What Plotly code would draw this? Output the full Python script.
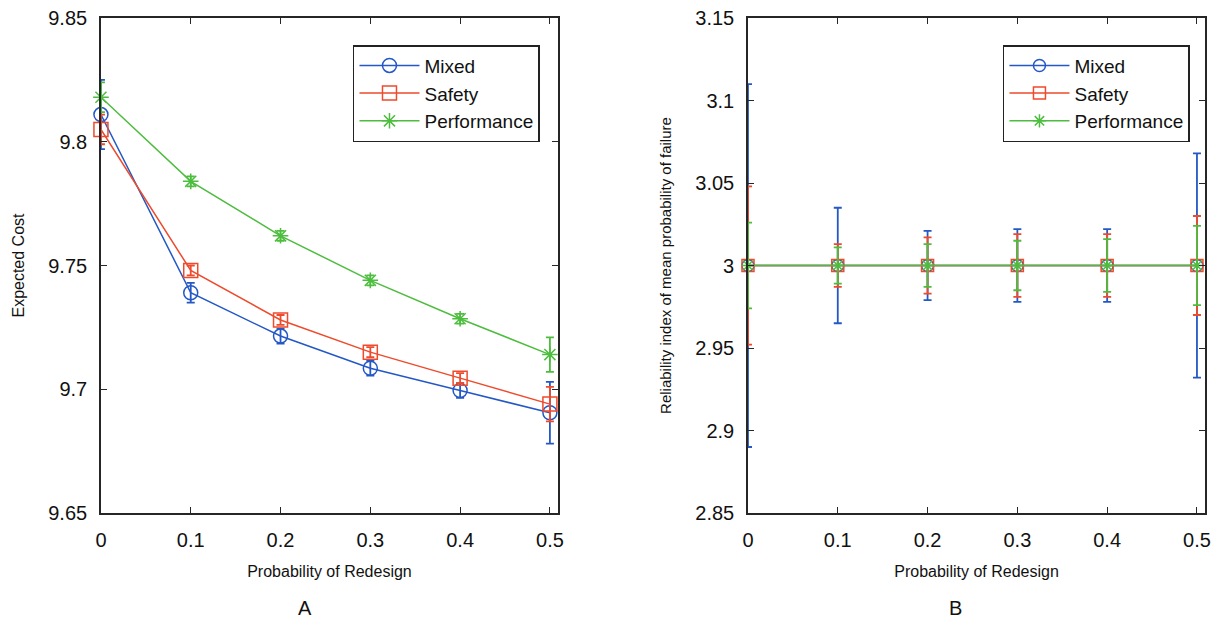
import plotly.graph_objects as go

# ---------------- data ----------------
p_redesign = [0, 0.1, 0.2, 0.3, 0.4, 0.5]

# Panel A: expected cost
cost_mixed = [9.811, 9.739, 9.7215, 9.7085, 9.6995, 9.6905]
cost_mixed_err = [0.014, 0.004, 0.003, 0.003, 0.003, 0.0125]
cost_safety = [9.805, 9.748, 9.728, 9.715, 9.7045, 9.694]
cost_safety_err = [0.006, 0.002, 0.002, 0.002, 0.002, 0.007]
cost_perf = [9.818, 9.784, 9.762, 9.744, 9.7285, 9.714]
cost_perf_err = [0.006, 0.002, 0.002, 0.002, 0.002, 0.007]

# Panel B: reliability index
rel_mixed = [3, 3, 3, 3, 3, 3]
rel_mixed_err = [0.11, 0.035, 0.021, 0.022, 0.022, 0.068]
rel_safety = [3, 3, 3, 3, 3, 3]
rel_safety_err = [0.048, 0.013, 0.017, 0.019, 0.019, 0.030]
rel_perf = [3, 3, 3, 3, 3, 3]
rel_perf_err = [0.026, 0.011, 0.013, 0.015, 0.016, 0.024]

series_names = ["Mixed", "Safety", "Performance"]
x_ticks = [0, 0.1, 0.2, 0.3, 0.4, 0.5]
x_ticktext = ["0", "0.1", "0.2", "0.3", "0.4", "0.5"]
yA_ticks = [9.65, 9.7, 9.75, 9.8, 9.85]
yA_ticktext = ["9.65", "9.7", "9.75", "9.8", "9.85"]
yB_ticks = [2.85, 2.9, 2.95, 3.0, 3.05, 3.1, 3.15]
yB_ticktext = ["2.85", "2.9", "2.95", "3", "3.05", "3.1", "3.15"]

# ---------------- style ----------------
colors = ["#2458c6", "#ee4a2c", "#4dbd3e"]
symbols = ["circle-open", "square-open", "asterisk-open"]
FONT = "Liberation Sans, Arial, sans-serif"
AX = "#262626"

fig = go.Figure()

panelA = [(cost_mixed, cost_mixed_err), (cost_safety, cost_safety_err), (cost_perf, cost_perf_err)]
panelB = [(rel_mixed, rel_mixed_err), (rel_safety, rel_safety_err), (rel_perf, rel_perf_err)]

for i, (vals, errs) in enumerate(panelA):
    fig.add_trace(go.Scatter(
        x=p_redesign, y=vals, name=series_names[i], mode="lines+markers",
        line=dict(color=colors[i], width=1.5),
        marker=dict(symbol=symbols[i], size=14 if i < 2 else 13, color=colors[i],
                    line=dict(width=1.5, color=colors[i])),
        error_y=dict(type="data", array=errs, visible=True, color=colors[i],
                     thickness=1.8, width=4),
        cliponaxis=False, xaxis="x", yaxis="y", legend="legend",
    ))

for i, (vals, errs) in enumerate(panelB):
    fig.add_trace(go.Scatter(
        x=p_redesign, y=vals, name=series_names[i], mode="lines+markers",
        line=dict(color=colors[i], width=1.5),
        marker=dict(symbol=symbols[i], size=12 if i < 2 else 11, color=colors[i],
                    line=dict(width=1.5, color=colors[i])),
        error_y=dict(type="data", array=errs, visible=True, color=colors[i],
                     thickness=1.8, width=4),
        cliponaxis=False, xaxis="x2", yaxis="y2", legend="legend2",
    ))

def xaxis_cfg(domain, anchor):
    return dict(
        domain=domain, anchor=anchor, range=[0, 0.509], automargin=False,
        tickvals=x_ticks, ticktext=x_ticktext,
        ticks="inside", ticklen=6, tickwidth=1.2, tickcolor=AX,
        showline=True, linecolor=AX, linewidth=1.5, mirror="ticks",
        showgrid=False, zeroline=False,
        tickfont=dict(family=FONT, size=20, color="#111111"),
        ticklabelstandoff=8,
        title=dict(text="Probability of Redesign", standoff=16,
                   font=dict(family=FONT, size=16, color="#111111")),
    )

def yaxis_cfg(rng, tv, tt, title, anchor, tsize, standoff):
    return dict(
        domain=[0.1805, 0.9712], anchor=anchor, range=rng, automargin=False,
        tickvals=tv, ticktext=tt,
        ticks="inside", ticklen=6, tickwidth=1.2, tickcolor=AX,
        showline=True, linecolor=AX, linewidth=1.5, mirror="ticks",
        showgrid=False, zeroline=False,
        tickfont=dict(family=FONT, size=20, color="#111111"),
        ticklabelstandoff=8,
        title=dict(text=title, standoff=standoff,
                   font=dict(family=FONT, size=tsize, color="#111111")),
    )

legend_style = dict(
    bgcolor="white", bordercolor="#222222", borderwidth=1.5,
    font=dict(family=FONT, size=19, color="#111111"),
    yanchor="top", y=0.928, xanchor="right", itemwidth=60,
    tracegroupgap=0,
)

fig.update_layout(
    width=1225, height=626,
    paper_bgcolor="white", plot_bgcolor="white",
    margin=dict(l=0, r=0, t=0, b=0, autoexpand=False),
    showlegend=True,
    xaxis=xaxis_cfg([0.0824, 0.4555], "y"),
    yaxis=yaxis_cfg([9.65, 9.85], yA_ticks, yA_ticktext, "Expected Cost", "x", 16, 20),
    xaxis2=xaxis_cfg([0.6106, 0.9837], "y2"),
    yaxis2=yaxis_cfg([2.85, 3.15], yB_ticks, yB_ticktext,
                     "Reliability index of mean probability of failure", "x2", 15, 20),
    legend=dict(legend_style, x=0.4408),
    legend2=dict(legend_style, x=0.9714),
    annotations=[
        dict(text="A", x=0.249, y=0.029, xref="paper", yref="paper",
             xanchor="center", yanchor="middle",
             showarrow=False, font=dict(family=FONT, size=20, color="#111111")),
        dict(text="B", x=0.7796, y=0.029, xref="paper", yref="paper",
             xanchor="center", yanchor="middle",
             showarrow=False, font=dict(family=FONT, size=20, color="#111111")),
    ],
)

fig.write_html(
    "out.html",
    config={"displayModeBar": False},
    post_script="document.body.style.margin='0px';document.body.style.overflow='hidden';",
)
